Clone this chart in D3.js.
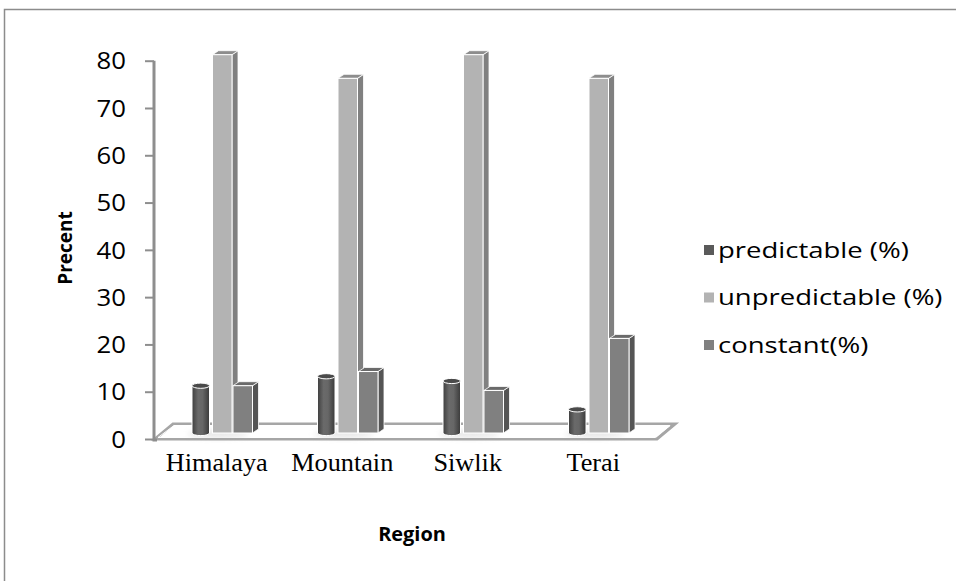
<!DOCTYPE html>
<html>
<head>
<meta charset="utf-8">
<script src="https://cdn.jsdelivr.net/npm/d3@7"></script>
<style>
  html, body { margin: 0; padding: 0; background: #fff; }
  svg { display: block; }
</style>
</head>
<body>
<svg id="chart" width="956" height="581"></svg>
<script>
// Survey results by region (percent of respondents)
const categories = ["Himalaya", "Mountain", "Siwlik", "Terai"];
const seriesNames = ["predictable (%)", "unpredictable (%)", "constant(%)"];
const predictable = [10, 12, 11, 5];
const unpredictable = [80, 75, 80, 75];
const constant = [10, 13, 9, 20];
const yTicks = [0, 10, 20, 30, 40, 50, 60, 70, 80];

const svg = d3.select("#chart");
const W = 956, H = 581;

// Outer chart frame (only left and top edges fall inside the view)
svg.append("rect")
  .attr("x", 4.5).attr("y", 9.5)
  .attr("width", W + 20).attr("height", H + 20)
  .attr("fill", "#fff").attr("stroke", "#8c8c8c").attr("stroke-width", 1.5);

// Scales
const y = d3.scaleLinear().domain([0, 80]).range([439, 60.7]);
const baseLift = 6;               // bars stand in the middle of the floor depth
const yBar = v => y(v) - baseLift;
const x = d3.scaleBand().domain(categories).range([155, 657]);
const sub = d3.scaleBand().domain(seriesNames).range([0, 61.5]);
const depth = { dx: 6, dy: -4 };  // box side/top extrusion
const floorDepth = { dx: 18, dy: -15 };

const defs = svg.append("defs");
const cyl = defs.append("linearGradient").attr("id", "cylGrad")
  .attr("x1", "0%").attr("x2", "100%").attr("y1", "0%").attr("y2", "0%");
[["0%", "#3e3e3e"], ["35%", "#6a6a6a"], ["60%", "#676767"], ["100%", "#3a3a3a"]]
  .forEach(([o, c]) => cyl.append("stop").attr("offset", o).attr("stop-color", c));
const blur = defs.append("filter").attr("id", "soft").attr("x", "-50%").attr("y", "-200%")
  .attr("width", "200%").attr("height", "500%");
blur.append("feGaussianBlur").attr("stdDeviation", 3);

// Floor slab
const x0 = x.range()[0], x1 = x.range()[1], y0 = y(0);
svg.append("polygon")
  .attr("points", [[x0, y0], [x1, y0], [x1 + floorDepth.dx, y0 + floorDepth.dy], [x0 + floorDepth.dx, y0 + floorDepth.dy]].map(p => p.join(",")).join(" "))
  .attr("fill", "#fff").attr("stroke", "#a6a6a6").attr("stroke-width", 3)
  .attr("stroke-linejoin", "miter");
svg.append("polygon")
  .attr("points", [[x0 + 3, y0 - 1.5], [x1 - 2, y0 - 1.5], [x1 + floorDepth.dx - 5, y0 + floorDepth.dy + 1.5], [x0 + floorDepth.dx + 1, y0 + floorDepth.dy + 1.5]].map(p => p.join(",")).join(" "))
  .attr("fill", "none").attr("stroke", "#fff").attr("stroke-width", 1);

// Y axis
const yAxis = svg.append("g")
  .attr("transform", "translate(154,0)")
  .call(d3.axisLeft(y).tickValues(yTicks).tickSize(9).tickPadding(0).tickSizeOuter(0));
yAxis.select(".domain").attr("stroke", "#8e8e8e").attr("stroke-width", 3)
  .attr("d", `M0,${y(80)}V${y(0) + 1}H3`);
yAxis.selectAll(".tick line").attr("stroke", "#8e8e8e").attr("stroke-width", 2);
yAxis.selectAll(".tick text")
  .attr("x", null)
  .attr("transform", "translate(-28,0) scale(1.12,1)")
  .attr("font-family", "'Open Sans', sans-serif").attr("font-size", 23)
  .attr("fill", "#000").attr("dy", "0.36em");

// Bars
const series = [
  { name: seriesNames[0], values: predictable, shape: "cylinder" },
  { name: seriesNames[1], values: unpredictable, shape: "box", front: "#b3b3b3", side: "#808080", top: "#8d8d8d" },
  { name: seriesNames[2], values: constant, shape: "box", front: "#808080", side: "#555555", top: "#6a6a6a" }
];
const barW = 19.5, cylW = 17.5;
const gBars = svg.append("g");

categories.forEach((cat, ci) => {
  const gx = x(cat) + x.bandwidth() / 2 + 5 - sub.range()[1] / 2;
  const base = yBar(0);
  // soft floor shadow
  gBars.append("ellipse")
    .attr("cx", gx + 26).attr("cy", base + 1).attr("rx", 30).attr("ry", 3)
    .attr("fill", "#b0b0b0").attr("opacity", 0.4).attr("filter", "url(#soft)");
  series.forEach(s => {
    const v = s.values[ci];
    const bx = gx + sub(s.name);
    const top = yBar(v);
    const g = gBars.append("g");
    if (s.shape === "cylinder") {
      const rx = cylW / 2, ry = 2.6, cx = bx + rx;
      g.append("path")
        .attr("d", `M${bx},${top}V${base}A${rx},${ry} 0 0 0 ${bx + cylW},${base}V${top}Z`)
        .attr("fill", "url(#cylGrad)").attr("stroke", "#fff").attr("stroke-width", 1);
      g.append("ellipse").attr("cx", cx).attr("cy", top).attr("rx", rx).attr("ry", ry)
        .attr("fill", "#4a4a4a").attr("stroke", "#fff").attr("stroke-width", 1);
    } else {
      const w = barW, { dx, dy } = depth;
      g.append("polygon")
        .attr("points", [[bx + w, top], [bx + w + dx, top + dy], [bx + w + dx, base + dy], [bx + w, base]].map(p => p.join(",")).join(" "))
        .attr("fill", s.side).attr("stroke", "#fff").attr("stroke-width", 0.8);
      g.append("polygon")
        .attr("points", [[bx, top], [bx + dx, top + dy], [bx + w + dx, top + dy], [bx + w, top]].map(p => p.join(",")).join(" "))
        .attr("fill", s.top).attr("stroke", "#fff").attr("stroke-width", 0.8);
      g.append("rect")
        .attr("x", bx).attr("y", top).attr("width", w).attr("height", base - top)
        .attr("fill", s.front).attr("stroke", "#fff").attr("stroke-width", 1);
    }
  });
});

// Category labels
svg.append("g").selectAll("text").data(categories).join("text")
  .attr("transform", d => `translate(${x(d) + x.bandwidth() / 2 - 1},471) scale(1.05,1)`)
  .attr("text-anchor", "middle")
  .attr("font-family", "'Liberation Serif', 'Times New Roman', serif")
  .attr("font-size", 25).attr("fill", "#000")
  .text(d => d);

// Axis titles
svg.append("text")
  .attr("transform", "translate(412,541) scale(1.05,1)")
  .attr("text-anchor", "middle")
  .attr("font-family", "'Open Sans', sans-serif").attr("font-weight", "bold")
  .attr("font-size", 19).attr("fill", "#000")
  .text("Region");
svg.append("text")
  .attr("transform", "translate(72,248) rotate(-90)")
  .attr("text-anchor", "middle")
  .attr("font-family", "'Open Sans', sans-serif").attr("font-weight", "bold")
  .attr("font-size", 19).attr("fill", "#000")
  .text("Precent");

// Legend
const legendColors = ["#5a5a5a", "#b3b3b3", "#808080"];
const legend = svg.append("g").selectAll("g").data(seriesNames).join("g")
  .attr("transform", (d, i) => `translate(704,${250 + i * 47.5})`);
legend.append("rect")
  .attr("x", 0).attr("y", -5).attr("width", 10).attr("height", 10)
  .attr("fill", (d, i) => legendColors[i]);
legend.append("text")
  .attr("transform", "translate(14,0) scale(1.25,1)")
  .attr("dy", "0.35em")
  .attr("font-family", "'Open Sans', sans-serif").attr("font-size", 22)
  .attr("fill", "#000")
  .text(d => d);
</script>
</body>
</html>
